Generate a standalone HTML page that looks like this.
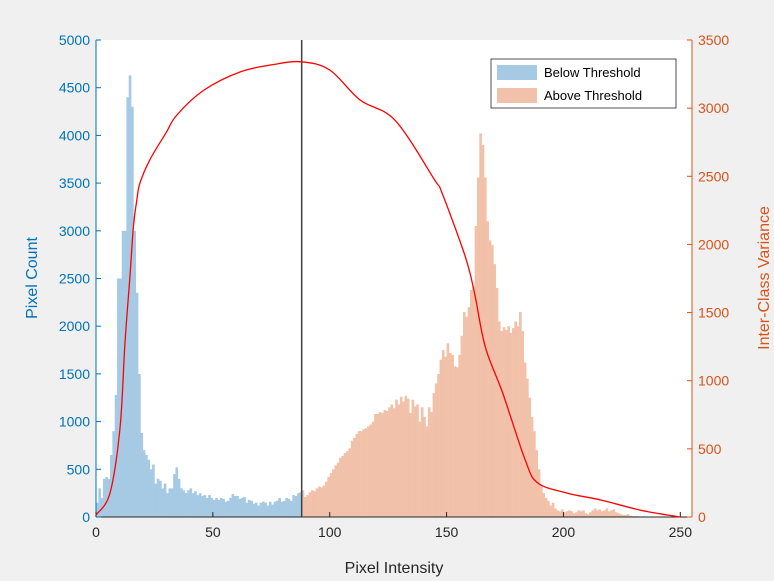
<!DOCTYPE html>
<html><head><meta charset="utf-8"><style>
body{margin:0;background:#f0f0f0;}
svg{display:block;font-family:"Liberation Sans",sans-serif;}
</style></head><body>
<svg id="chart" width="774" height="581">
<rect x="0" y="0" width="774" height="581" fill="#f0f0f0"/>
<rect x="96" y="40" width="596" height="477" fill="#ffffff"/>
<g id="bars"></g>
<g id="axes"></g>
</svg>
<script>
const threshold = 88;
const counts = [150,300,200,400,420,400,650,900,1280,2500,2500,3000,3000,4400,4630,4300,3000,2350,1500,880,
700,650,600,500,550,350,400,380,300,350,250,300,300,450,520,400,300,280,250,280,
300,250,270,230,250,220,230,200,230,200,180,200,180,200,190,160,170,200,240,220,
220,190,200,210,150,180,170,140,150,120,150,160,150,120,160,130,160,170,200,160,
170,200,190,170,230,220,250,260,
280,210,230,260,280,270,300,320,310,330,370,420,460,500,540,570,620,640,670,690,
720,800,830,870,900,900,920,930,950,970,1000,1080,1080,1100,1090,1120,1110,1150,1180,1140,
1230,1180,1260,1210,1270,1240,1090,1230,1160,1180,1000,1150,1050,950,1150,1100,1300,1400,1500,1650,
1750,1680,1820,1720,1700,1580,1570,1700,1900,2150,2100,2200,2380,2420,3050,3560,4020,3900,3560,3100,
2900,2850,2650,2400,2050,1950,1990,1960,2000,1930,1980,2050,2000,2150,1950,1620,1450,1250,1050,900,
700,500,330,250,200,170,120,150,90,70,60,80,50,60,70,60,40,50,70,60,
70,40,30,50,70,90,70,80,60,70,90,60,70,80,50,40,30,20,20,30,
15,10,8,10,6,5,8,4,5,3,4,2,3,2,2,1,1,0,1,0,0,0,0,0,0,0];
const varX = [0,6,10.3,12.4,14.5,16,17.5,18.8,23,30,34.6,46,61.6,76,88,100,113,128,145,148,158,162,166.5,174,183.6,189,201.6,216,233,250];
const varY = [15,175,660,1280,1760,2130,2330,2450,2620,2820,2950,3130,3265,3320,3340,3280,3060,2910,2470,2380,1910,1640,1250,910,420,250,175,125,50,0];
const xTicks = [0,50,100,150,200,250];
const yLeftTicks = [0,500,1000,1500,2000,2500,3000,3500,4000,4500,5000];
const yRightTicks = [0,500,1000,1500,2000,2500,3000,3500];

const L=96,R=692,T=40,B=517;
const xs=v=>L+(v/255)*(R-L);
const yl=v=>B-(v/5000)*(B-T);
const yr=v=>B-(v/3500)*(B-T);
const NS="http://www.w3.org/2000/svg";
function mk(tag,attrs,parent){const e=document.createElementNS(NS,tag);for(const k in attrs)e.setAttribute(k,attrs[k]);parent.appendChild(e);return e;}
const svg=document.getElementById('chart');
const bars=document.getElementById('bars');
const axes=document.getElementById('axes');

counts.forEach((c,i)=>{
  const x0=xs(i), x1=Math.min(xs(i+1),R);
  if(x1<=x0) return;
  const r=mk('rect',{x:x0,y:yl(c),width:x1-x0+0.3,height:B-yl(c),fill:i<threshold?'#a6cae4':'#f2c1a9'},bars);
  
  
});

const th=mk('line',{x1:xs(threshold),x2:xs(threshold),y1:T,y2:B,stroke:'#404040','stroke-width':1.5},svg);



// smooth variance curve (Catmull-Rom)
const P=varX.map((x,i)=>[xs(x),yr(varY[i])]);
let d='M'+P[0][0].toFixed(1)+','+P[0][1].toFixed(1);
for(let i=0;i<P.length-1;i++){
  const p0=P[Math.max(i-1,0)],p1=P[i],p2=P[i+1],p3=P[Math.min(i+2,P.length-1)];
  const c1=[p1[0]+(p2[0]-p0[0])/6,p1[1]+(p2[1]-p0[1])/6];
  const c2=[p2[0]-(p3[0]-p1[0])/6,p2[1]-(p3[1]-p1[1])/6];
  d+='C'+c1[0].toFixed(1)+','+c1[1].toFixed(1)+' '+c2[0].toFixed(1)+','+c2[1].toFixed(1)+' '+p2[0].toFixed(1)+','+p2[1].toFixed(1);
}
const vp=mk('path',{d:d,fill:'none',stroke:'#ff0000','stroke-width':1.3,'stroke-linejoin':'round'},svg);



mk('line',{x1:L,x2:R,y1:B,y2:B,stroke:'#262626','stroke-width':1},axes);
mk('line',{x1:L,x2:L,y1:T,y2:B,stroke:'#0072bd','stroke-width':1},axes);
mk('line',{x1:R,x2:R,y1:T,y2:B,stroke:'#d95319','stroke-width':1},axes);
xTicks.forEach(v=>{
  mk('line',{x1:xs(v),x2:xs(v),y1:B,y2:B-5,stroke:'#262626'},axes);
  const t=mk('text',{x:xs(v),y:B+20,'text-anchor':'middle','font-size':14,fill:'#262626'},axes);
  t.textContent=v;
  
  
});
yLeftTicks.forEach(v=>{
  mk('line',{x1:L,x2:L+5,y1:yl(v),y2:yl(v),stroke:'#0072bd'},axes);
  const t=mk('text',{x:L-6,y:yl(v)+5,'text-anchor':'end','font-size':14,fill:'#0072bd'},axes);
  t.textContent=v;
  
  
});
yRightTicks.forEach(v=>{
  mk('line',{x1:R,x2:R-5,y1:yr(v),y2:yr(v),stroke:'#d95319'},axes);
  const t=mk('text',{x:R+6,y:yr(v)+5,'text-anchor':'start','font-size':14,fill:'#d95319'},axes);
  t.textContent=v;
  
  
});
</script>
<svg style="position:absolute;left:0;top:0" width="774" height="581">
<text x="394" y="573" text-anchor="middle" font-size="16" fill="#262626" font-family="Liberation Sans, sans-serif">Pixel Intensity</text>
<text transform="translate(37,278) rotate(-90)" text-anchor="middle" font-size="16" fill="#0072bd" font-family="Liberation Sans, sans-serif">Pixel Count</text>
<text transform="translate(769,278) rotate(-90)" text-anchor="middle" font-size="16" fill="#d95319" font-family="Liberation Sans, sans-serif">Inter-Class Variance</text>
<g>
<rect x="491" y="59" width="185" height="49" fill="#fff" stroke="#262626" stroke-width="0.8"/>
<rect x="497" y="65" width="40" height="15" fill="#a6cae4"/>
<text x="544" y="77" font-size="13" fill="#000" font-family="Liberation Sans, sans-serif">Below Threshold</text>
<rect x="497" y="88" width="40" height="15" fill="#f2c1a9"/>
<text x="544" y="100" font-size="13" fill="#000" font-family="Liberation Sans, sans-serif">Above Threshold</text>
</g>
</svg>
</body></html>
